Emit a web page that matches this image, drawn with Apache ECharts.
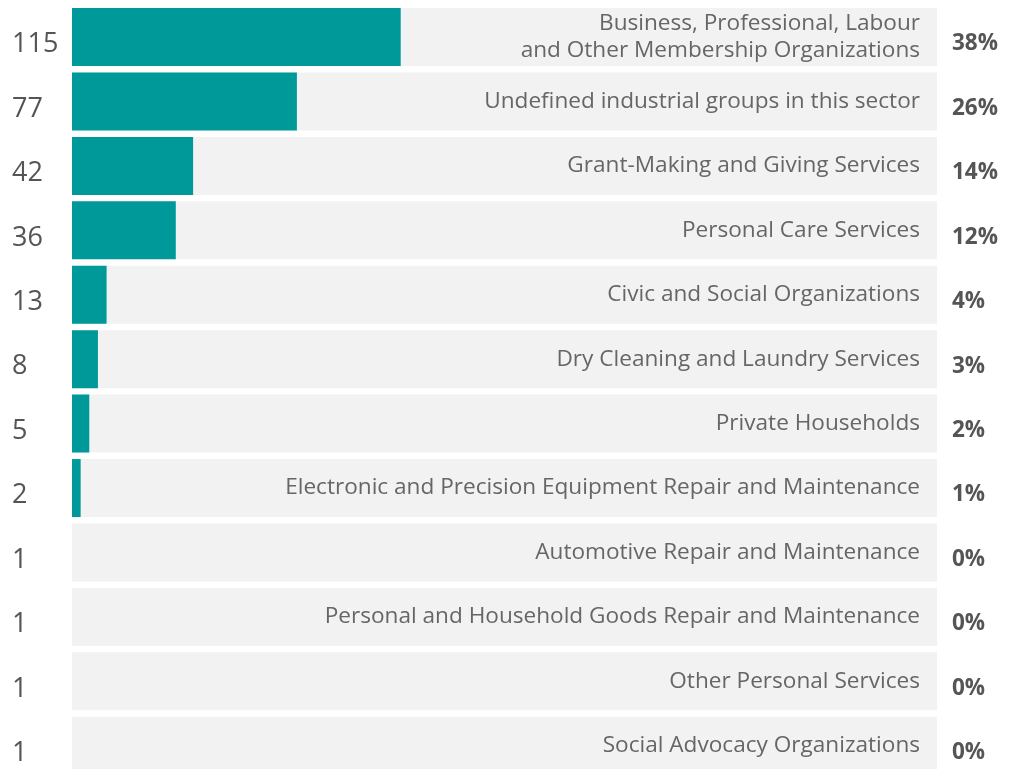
<!DOCTYPE html>
<html>
<head>
<meta charset="utf-8">
<script src="https://cdn.jsdelivr.net/npm/echarts@6/dist/echarts.min.js"></script>
<style>
  html, body { margin: 0; padding: 0; background: #fff; }
  #chart { width: 1012px; height: 769px; }
</style>
</head>
<body>
<div id="chart"></div>
<script>
const categories = [
  'Business, Professional, Labour\nand Other Membership Organizations',
  'Undefined industrial groups in this sector',
  'Grant-Making and Giving Services',
  'Personal Care Services',
  'Civic and Social Organizations',
  'Dry Cleaning and Laundry Services',
  'Private Households',
  'Electronic and Precision Equipment Repair and Maintenance',
  'Automotive Repair and Maintenance',
  'Personal and Household Goods Repair and Maintenance',
  'Other Personal Services',
  'Social Advocacy Organizations'
];
const counts = [115, 77, 42, 36, 13, 8, 5, 2, 1, 1, 1, 1];
const percents = [38, 26, 14, 12, 4, 3, 2, 1, 0, 0, 0, 0];
const fullScale = 100;

const chart = echarts.init(document.getElementById('chart'));

const option = {
  animation: false,
  textStyle: { fontFamily: '"Open Sans", sans-serif' },
  grid: {
    left: 72,
    right: 75,
    top: 4.8,
    height: 773.2,
    containLabel: false,
    outerBoundsMode: 'none'
  },
  xAxis: {
    type: 'value',
    min: 0,
    max: fullScale,
    show: false
  },
  yAxis: [{
    type: 'category',
    data: categories,
    inverse: true,
    axisLine: { show: false },
    axisTick: { show: false },
    splitLine: { show: false },
    axisLabel: {
      align: 'left',
      margin: 60,
      formatter: (v, i) => '{n|' + counts[i] + '}',
      rich: {
        n: { fontSize: 27, color: '#555', padding: [15, 0, 0, 0] }
      }
    }
  }, {
    type: 'category',
    data: categories,
    inverse: true,
    position: 'right',
    axisLine: { show: false },
    axisTick: { show: false },
    splitLine: { show: false },
    axisLabel: {
      align: 'left',
      margin: 15,
      formatter: (v, i) => '{p|' + percents[i] + '%}',
      rich: {
        p: { fontSize: 22.5, fontWeight: 'bold', color: '#555', padding: [14, 0, 0, 0] }
      }
    }
  }],
  series: [{
    // grey full-width track carrying the category name
    type: 'bar',
    barWidth: 58,
    barGap: '-100%',
    silent: true,
    itemStyle: { color: '#f2f2f2' },
    data: categories.map(() => fullScale),
    label: {
      show: true,
      position: 'insideRight',
      distance: 17,
      fontSize: 22.6,
      lineHeight: 27,
      color: '#666',
      align: 'right',
      padding: [5, 0, 0, 0],
      formatter: (p) => categories[p.dataIndex]
    },
    z: 1
  }, {
    type: 'bar',
    barWidth: 58,
    itemStyle: { color: '#009999' },
    data: percents,
    z: 2
  }]
};

chart.setOption(option);
</script>
</body>
</html>
